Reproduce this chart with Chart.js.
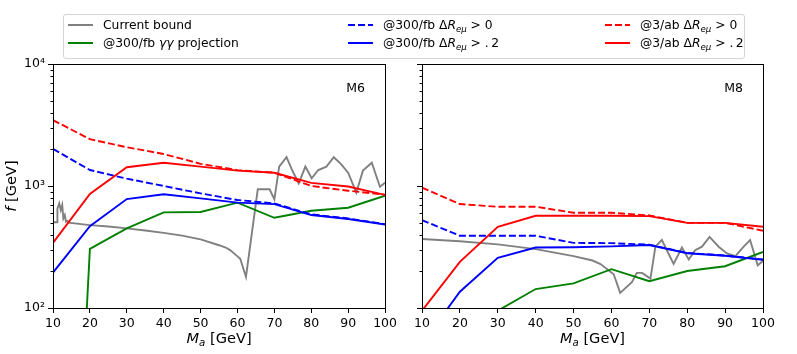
<!DOCTYPE html>
<html>
<head>
<meta charset="utf-8">
<script src="https://cdn.jsdelivr.net/npm/chart.js@4.4.1/dist/chart.umd.min.js"></script>
<style>
html, body { margin: 0; padding: 0; background: #fff; }
body { width: 797px; height: 354px; position: relative; overflow: hidden; font-family: "DejaVu Sans", sans-serif; }
#left { position: absolute; left: 0; top: 0; }
#right { position: absolute; left: 400px; top: 0; }
#legend { position: absolute; left: 63px; top: 14px; width: 680px; height: 43px; border: 1px solid #d4d4d4; border-radius: 3px; background: #fff; font-size: 12.3px; color: #000; }
.item { position: absolute; height: 16px; line-height: 16px; white-space: nowrap; }
.swatch { position: absolute; left: 0; top: 7px; width: 25px; height: 2px; }
.label { position: absolute; left: 35px; top: 0; }
sub { font-size: 70%; vertical-align: -3px; line-height: 0; }
</style>
</head>
<body>
<canvas id="left" width="400" height="354"></canvas>
<canvas id="right" width="397" height="354"></canvas>
<div id="legend"></div>
<script>
/* DATA */

const masses = [10, 20, 30, 40, 50, 60, 70, 80, 90, 100];

const yTicks = [100, 1000, 10000];
const yLabels = ["10\u00b2", "10\u00b3", "10\u2074"];

// M6 panel
const boundMassM6 = [10, 11.1, 11.2, 11.7, 12.1, 12.5, 12.8, 13.2, 13.5, 13.9, 14.2, 20, 25, 30, 35, 40, 45, 50, 55, 56.8, 58, 60, 60.75, 62.3, 65.5, 68.7, 70, 71.3, 73.3, 74.8, 76.6, 78.4, 80.1, 81.9, 84.1, 86.1, 88, 90, 92.2, 94, 96.4, 98.6, 100];
const boundM6 = [504, 504, 656, 721, 635, 699, 542, 578, 510, 519, 500, 478, 465, 449, 432, 413, 392, 365, 327, 313, 298, 265, 253, 180, 940, 940, 777, 1442, 1722, 1352, 1052, 1442, 1156, 1352, 1442, 1722, 1517, 1285, 881, 1337, 1552, 986, 1065];
const gammaMassM6 = [19, 20, 30, 40, 50, 60, 70, 80, 90, 100];
const gammaM6 = [80, 305, 449, 608, 612, 730, 549, 627, 664, 832];
const blueDashM6 = [2014, 1352, 1148, 1000, 870, 767, 720, 585, 542, 487];
const blueSolidM6 = [195, 469, 781, 855, 792, 730, 711, 578, 536, 484];
const redDashM6 = [3470, 2420, 2080, 1830, 1520, 1350, 1285, 1000, 915, 848];
const redSolidM6 = [342, 860, 1425, 1552, 1442, 1337, 1285, 1060, 990, 845];

// M8 panel
const boundMassM8 = [10, 20, 30, 40, 50, 55, 57.1, 60.6, 62.3, 65.4, 66.7, 68.1, 70.3, 71.6, 73.3, 76.4, 78.6, 80.4, 82.1, 83.9, 85.9, 88.3, 90.5, 92.7, 94.9, 96.6, 98.6, 100];
const boundM8 = [368, 352, 332, 304, 266, 245, 229, 189, 133, 163, 194, 194, 174, 318, 361, 230, 313, 250, 298, 318, 383, 318, 280, 266, 318, 361, 224, 243];
const gammaMassM8 = [30, 40, 50, 60, 70, 80, 90, 100];
const gammaM8 = [95, 143, 159, 208, 166, 201, 220, 288];
const blueDashM8 = [525, 391, 391, 391, 342, 340, 330, 283, 269, 250];
const blueSolidM8 = [51, 136, 258, 313, 315, 320, 328, 281, 268, 248];
const redDashM8 = [970, 711, 676, 676, 604, 604, 574, 499, 499, 430];
const redSolidM8 = [95, 239, 463, 570, 570, 570, 566, 499, 499, 463];

const legendItems = [
    { color: "#808080", dash: false, text: "Current bound", col: 0, row: 0 },
    { color: "#008000", dash: false, text: "@300/fb <i>γγ</i> projection", col: 0, row: 1 },
    { color: "#0000ff", dash: true, text: "@300/fb Δ<i>R</i><sub><i>eμ</i></sub> &gt; 0", col: 1, row: 0 },
    { color: "#0000ff", dash: false, text: "@300/fb Δ<i>R</i><sub><i>eμ</i></sub> &gt; .&thinsp;2", col: 1, row: 1 },
    { color: "#ff0000", dash: true, text: "@3/ab Δ<i>R</i><sub><i>eμ</i></sub> &gt; 0", col: 2, row: 0 },
    { color: "#ff0000", dash: false, text: "@3/ab Δ<i>R</i><sub><i>eμ</i></sub> &gt; .&thinsp;2", col: 2, row: 1 }
];

/* HELPERS */

const FONT = '"DejaVu Sans"';
Chart.defaults.font.family = FONT;
Chart.defaults.font.size = 12.5;
Chart.defaults.color = "#000";

function pts(xs, ys) {
    return xs.map((x, i) => ({ x: x, y: ys[i] }));
}

function line(xs, ys, color, dashed, order) {
    return {
        data: pts(xs, ys),
        borderColor: color,
        borderWidth: 1.9,
        borderDash: dashed ? [7, 3] : [],
        pointRadius: 0,
        tension: 0,
        fill: false,
        order: order
    };
}

function drawParts(ctx, parts, cx, baseY) {
    let total = 0;
    parts.forEach(p => { ctx.font = p[0]; total += ctx.measureText(p[1]).width; });
    let x = cx - total / 2;
    ctx.textAlign = "left";
    ctx.textBaseline = "alphabetic";
    parts.forEach(p => {
        ctx.font = p[0];
        ctx.fillText(p[1], x, baseY + p[2]);
        x += ctx.measureText(p[1]).width;
    });
}

const framePlugin = {
    id: "frame",
    afterDatasetsDraw(chart, args, opts) {
        const ctx = chart.ctx;
        const a = chart.chartArea;
        const y = chart.scales.y;
        ctx.save();
        ctx.strokeStyle = "#000";
        ctx.lineWidth = 1;
        ctx.strokeRect(Math.round(a.left) + 0.5, Math.round(a.top) + 0.5, Math.round(a.right - a.left), Math.round(a.bottom - a.top));

        // minor log ticks
        ctx.beginPath();
        for (let k = 2; k < 4; k++) {
            for (let m = 2; m < 10; m++) {
                const py = Math.round(y.getPixelForValue(m * Math.pow(10, k))) + 0.5;
                ctx.moveTo(a.left - 2.5, py);
                ctx.lineTo(a.left, py);
            }
        }
        ctx.stroke();

        ctx.fillStyle = "#000";
        ctx.font = "12.5px " + FONT;
        ctx.textAlign = "right";
        ctx.textBaseline = "alphabetic";
        ctx.fillText(opts.tag, a.right - 20, a.top + 28);

        // x axis title
        drawParts(ctx, [
            ["italic 14.6px " + FONT, "M", 0],
            ["italic 10.2px " + FONT, "a", 3],
            ["14.6px " + FONT, " [GeV]", 0]
        ], (a.left + a.right) / 2, 343);

        // y axis title
        if (opts.yTitle) {
            ctx.translate(15.5, (a.top + a.bottom) / 2);
            ctx.rotate(-Math.PI / 2);
            drawParts(ctx, [
                ["italic 14.6px " + FONT, "f", 0],
                ["14.6px " + FONT, " [GeV]", 0]
            ], 0, 0);
        }
        ctx.restore();
    }
};

function makeChart(id, tag, showY, padRight, yWidth, d) {
    return new Chart(document.getElementById(id), {
        type: "line",
        data: {
            datasets: [
                line(d.bx, d.b, "#808080", false, 6),
                line(d.gx, d.g, "#008000", false, 5),
                line(masses, d.bd, "#0000ff", true, 4),
                line(masses, d.bs, "#0000ff", false, 3),
                line(masses, d.rd, "#ff0000", true, 2),
                line(masses, d.rs, "#ff0000", false, 1)
            ]
        },
        options: {
            responsive: false,
            animation: false,
            layout: { padding: { top: 64, right: padRight, left: 0, bottom: 0 } },
            plugins: {
                legend: { display: false },
                tooltip: { enabled: false },
                frame: { tag: tag, yTitle: showY }
            },
            scales: {
                x: {
                    type: "linear",
                    min: 10,
                    max: 100,
                    ticks: { stepSize: 10, padding: 3, maxRotation: 0, autoSkip: false, color: "#000" },
                    grid: { drawOnChartArea: false, tickLength: 5, color: "#000" },
                    border: { color: "#000" },
                    afterFit: s => { s.height = 46; }
                },
                y: {
                    type: "logarithmic",
                    min: 100,
                    max: 10000,
                    afterBuildTicks: s => { s.ticks = yTicks.map(v => ({ value: v })); },
                    ticks: {
                        display: showY,
                        padding: 3,
                        autoSkip: false,
                        color: "#000",
                        callback: v => yLabels[yTicks.indexOf(v)]
                    },
                    grid: { drawOnChartArea: false, tickLength: 5, color: "#000" },
                    border: { color: "#000" },
                    afterFit: s => { s.width = yWidth; }
                }
            }
        },
        plugins: [framePlugin]
    });
}

/* CHARTS */

makeChart("left", "M6", true, 6, 53, {
    bx: boundMassM6, b: boundM6, gx: gammaMassM6, g: gammaM6,
    bd: blueDashM6, bs: blueSolidM6, rd: redDashM6, rs: redSolidM6
});

makeChart("right", "M8", false, 34, 22, {
    bx: boundMassM8, b: boundM8, gx: gammaMassM8, g: gammaM8,
    bd: blueDashM8, bs: blueSolidM8, rd: redDashM8, rs: redSolidM8
});

/* LEGEND */

const legend = document.getElementById("legend");
const colX = [4, 284, 541];
const rowY = [2, 20];

legendItems.forEach(it => {
    const el = document.createElement("div");
    el.className = "item";
    el.style.left = colX[it.col] + "px";
    el.style.top = rowY[it.row] + "px";
    const bg = it.dash
        ? "repeating-linear-gradient(to right, " + it.color + " 0 7px, transparent 7px 10px)"
        : it.color;
    el.innerHTML = '<div class="swatch" style="background:' + bg + '"></div><div class="label">' + it.text + "</div>";
    legend.appendChild(el);
});
</script>
</body>
</html>
